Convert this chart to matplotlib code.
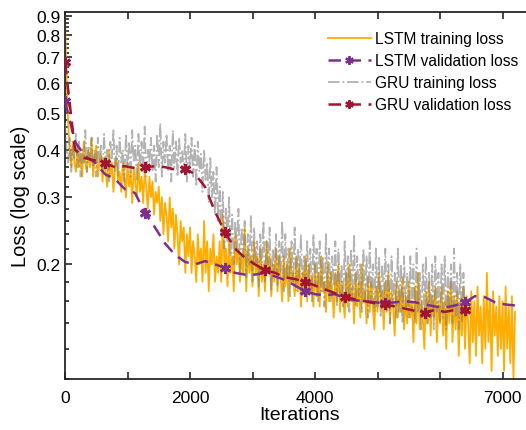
import numpy as np
import matplotlib
matplotlib.use("Agg")
import matplotlib.pyplot as plt
from matplotlib.ticker import FixedLocator, NullFormatter, FixedFormatter

plt.rcParams['font.family'] = ['Liberation Sans', 'DejaVu Sans']

# ---------------- data ----------------
train_step = 25
lstm_train = [
    0.90, 0.62, 0.47, 0.40, 0.36, 0.42, 0.37, 0.35, 0.41, 0.36, 0.39, 0.34, 0.42, 0.37, 0.35, 0.40, 0.36, 0.43, 0.34, 0.38,
    0.41, 0.34, 0.37, 0.39, 0.33, 0.38, 0.35, 0.32, 0.40, 0.34, 0.37, 0.31, 0.36, 0.38, 0.33, 0.35, 0.31, 0.37, 0.34, 0.30,
    0.37, 0.32, 0.35, 0.29, 0.36, 0.33, 0.30, 0.37, 0.31, 0.34, 0.29, 0.35, 0.32, 0.28, 0.34, 0.30, 0.33, 0.27, 0.31, 0.29,
    0.32, 0.26, 0.30, 0.24, 0.29, 0.27, 0.23, 0.30, 0.25, 0.28, 0.22, 0.27, 0.24, 0.20, 0.26, 0.23, 0.25, 0.19, 0.24, 0.21,
    0.25, 0.19, 0.23, 0.21, 0.18, 0.24, 0.20, 0.22, 0.18, 0.26, 0.19, 0.23, 0.17, 0.22, 0.20, 0.24, 0.18, 0.21, 0.19, 0.23,
    0.18, 0.27, 0.20, 0.22, 0.175, 0.23, 0.19, 0.21, 0.17, 0.24, 0.20, 0.22, 0.18, 0.21, 0.19, 0.25, 0.17, 0.22, 0.19, 0.21,
    0.175, 0.23, 0.19, 0.21, 0.165, 0.22, 0.18, 0.20, 0.17, 0.23, 0.19, 0.21, 0.165, 0.20, 0.18, 0.22, 0.17, 0.21, 0.185, 0.16,
    0.21, 0.175, 0.20, 0.16, 0.22, 0.18, 0.19, 0.165, 0.21, 0.17, 0.20, 0.155, 0.19, 0.175, 0.21, 0.16, 0.20, 0.17, 0.185, 0.155,
    0.20, 0.165, 0.19, 0.155, 0.21, 0.17, 0.18, 0.15, 0.20, 0.16, 0.19, 0.17, 0.145, 0.19, 0.16, 0.20, 0.15, 0.18, 0.165, 0.145,
    0.19, 0.155, 0.20, 0.16, 0.175, 0.14, 0.19, 0.155, 0.18, 0.145, 0.20, 0.16, 0.17, 0.14, 0.185, 0.15, 0.18, 0.155, 0.135, 0.175,
    0.15, 0.19, 0.16, 0.17, 0.135, 0.18, 0.15, 0.19, 0.14, 0.17, 0.155, 0.13, 0.18, 0.145, 0.17, 0.15, 0.185, 0.135, 0.165, 0.14,
    0.18, 0.145, 0.16, 0.125, 0.175, 0.14, 0.19, 0.135, 0.16, 0.145, 0.12, 0.17, 0.14, 0.18, 0.13, 0.165, 0.145, 0.175, 0.125, 0.16,
    0.14, 0.175, 0.13, 0.16, 0.12, 0.17, 0.14, 0.18, 0.125, 0.165, 0.135, 0.17, 0.115, 0.16, 0.13, 0.175, 0.12, 0.165, 0.14, 0.11,
    0.17, 0.125, 0.16, 0.115, 0.175, 0.13, 0.155, 0.11, 0.165, 0.12, 0.19, 0.125, 0.16, 0.105, 0.17, 0.13, 0.155, 0.115, 0.165, 0.12,
    0.16, 0.105, 0.175, 0.12, 0.155, 0.11, 0.165, 0.10, 0.15,
]
gru_train = [
    0.47, 0.40, 0.37, 0.43, 0.35, 0.41, 0.38, 0.44, 0.36, 0.42, 0.34, 0.40, 0.37, 0.45, 0.35, 0.41, 0.38, 0.43, 0.36, 0.40,
    0.34, 0.43, 0.37, 0.41, 0.35, 0.44, 0.36, 0.40, 0.33, 0.42, 0.38, 0.45, 0.35, 0.41, 0.34, 0.43, 0.37, 0.40, 0.33, 0.44,
    0.36, 0.42, 0.34, 0.45, 0.37, 0.41, 0.33, 0.44, 0.36, 0.42, 0.35, 0.46, 0.34, 0.40, 0.37, 0.43, 0.35, 0.41, 0.33, 0.44,
    0.36, 0.47, 0.34, 0.42, 0.37, 0.44, 0.35, 0.41, 0.33, 0.45, 0.36, 0.42, 0.34, 0.43, 0.37, 0.40, 0.35, 0.44, 0.33, 0.41,
    0.36, 0.43, 0.34, 0.41, 0.32, 0.42, 0.35, 0.39, 0.31, 0.40, 0.33, 0.37, 0.29, 0.38, 0.30, 0.35, 0.27, 0.36, 0.26, 0.32,
    0.24, 0.31, 0.22, 0.28, 0.23, 0.30, 0.21, 0.27, 0.20, 0.26, 0.22, 0.28, 0.19, 0.25, 0.21, 0.26, 0.185, 0.24, 0.20, 0.27,
    0.18, 0.25, 0.20, 0.23, 0.175, 0.24, 0.19, 0.26, 0.18, 0.23, 0.20, 0.25, 0.17, 0.22, 0.19, 0.24, 0.175, 0.23, 0.19, 0.26,
    0.17, 0.24, 0.185, 0.22, 0.165, 0.23, 0.18, 0.25, 0.17, 0.22, 0.185, 0.24, 0.165, 0.21, 0.18, 0.23, 0.17, 0.22, 0.16, 0.24,
    0.175, 0.22, 0.16, 0.23, 0.17, 0.21, 0.155, 0.24, 0.17, 0.22, 0.16, 0.21, 0.175, 0.23, 0.155, 0.22, 0.165, 0.20, 0.155, 0.23,
    0.165, 0.21, 0.15, 0.22, 0.16, 0.24, 0.155, 0.21, 0.165, 0.20, 0.15, 0.22, 0.16, 0.21, 0.145, 0.23, 0.16, 0.20, 0.15, 0.22,
    0.155, 0.21, 0.145, 0.20, 0.16, 0.22, 0.15, 0.20, 0.14, 0.21, 0.155, 0.19, 0.145, 0.22, 0.15, 0.20, 0.14, 0.21, 0.155, 0.19,
    0.145, 0.21, 0.15, 0.20, 0.14, 0.22, 0.15, 0.19, 0.135, 0.20, 0.15, 0.21, 0.14, 0.19, 0.145, 0.20, 0.135, 0.21, 0.15, 0.19,
    0.14, 0.20, 0.145, 0.21, 0.135, 0.19, 0.15, 0.20, 0.14, 0.22, 0.145, 0.19, 0.135, 0.20, 0.14, 0.19, 0.145,
]
val_step = 160
lstm_val = [
    0.536, 0.42, 0.385, 0.37, 0.345, 0.335, 0.315, 0.308, 0.273, 0.25,
    0.227, 0.212, 0.203, 0.200, 0.204, 0.200, 0.196, 0.190, 0.188, 0.188,
    0.190, 0.186, 0.182, 0.176, 0.170, 0.167, 0.166, 0.167, 0.163, 0.161,
    0.160, 0.159, 0.158, 0.159, 0.160, 0.159, 0.157, 0.155, 0.154, 0.156,
    0.159, 0.165, 0.164, 0.159, 0.157, 0.156,
]
gru_val = [
    0.68, 0.40, 0.38, 0.375, 0.369, 0.36, 0.362, 0.358, 0.36, 0.362,
    0.36, 0.355, 0.357, 0.345, 0.32, 0.275, 0.243, 0.22, 0.208, 0.20,
    0.193, 0.19, 0.185, 0.183, 0.180, 0.176, 0.172, 0.168, 0.164, 0.162,
    0.160, 0.158, 0.157, 0.155, 0.153, 0.151, 0.149, 0.152, 0.150, 0.152,
    0.152,
]
labels = ["LSTM training loss", "LSTM validation loss",
          "GRU training loss", "GRU validation loss"]
ytick_vals = [0.2, 0.3, 0.4, 0.5, 0.6, 0.7, 0.8, 0.9]
ytick_labels = ["0.2", "0.3", "0.4", "0.5", "0.6", "0.7", "0.8", "0.9"]
xtick_vals = [0, 1000, 2000, 3000, 4000, 5000, 6000, 7000]
xtick_labels = ["0", "", "2000", "", "4000", "", "", "7000"]

# ---------------- plot ----------------
c_orange = "#FFAD00"
c_gray = (0.5, 0.5, 0.5)
c_purple = "#7E2F8E"
c_red = "#A2142F"

fig = plt.figure(figsize=(5.26, 4.31), dpi=100)
ax = fig.add_axes([65/526, 1-380/431, 7.5*62.5/526, (380-13)/431])

x_lt = np.arange(len(lstm_train)) * train_step
x_gt = np.arange(len(gru_train)) * train_step
x_lv = np.arange(len(lstm_val)) * val_step
x_gv = np.arange(len(gru_val)) * val_step

ast = (6, 2, 0)
l1, = ax.plot(x_lt, lstm_train, color=c_orange, lw=1.3, zorder=2)
l3, = ax.plot(x_gt, gru_train, color=c_gray, lw=1.3, ls='-.', alpha=0.6, zorder=3)
l2, = ax.plot(x_lv, lstm_val, color=c_purple, lw=1.8, ls=(0, (5, 3)),
              marker=ast, ms=8, mew=2.0, markevery=8, zorder=4)
l4, = ax.plot(x_gv, gru_val, color=c_red, lw=1.8, ls=(0, (5, 3)),
              marker=ast, ms=8, mew=2.0, markevery=4, zorder=5)

ax.set_yscale('log')
ax.set_ylim(0.1, 0.92)
ax.set_xlim(0, 7500)

ax.yaxis.set_major_locator(FixedLocator(ytick_vals))
ax.yaxis.set_major_formatter(FixedFormatter(ytick_labels))
minors = [round(0.1 + 0.02 * i, 2) for i in range(41)]
minors = [m for m in minors if all(abs(m - t) > 1e-6 for t in ytick_vals)]
ax.yaxis.set_minor_locator(FixedLocator(minors))
ax.yaxis.set_minor_formatter(NullFormatter())

ax.xaxis.set_major_locator(FixedLocator(xtick_vals))
ax.xaxis.set_major_formatter(FixedFormatter(xtick_labels))

ax.tick_params(which='both', direction='in', top=True, right=False,
               labelsize=12.5, width=1.2, color='#262626')
ax.tick_params(which='major', length=5)
ax.tick_params(which='minor', length=3)
ax.tick_params(axis='x', pad=8)
for s in ax.spines.values():
    s.set_linewidth(1.3)
    s.set_color('#262626')

ax.set_xlabel("Iterations", fontsize=14, labelpad=1)
ax.set_ylabel("Loss (log scale)", fontsize=14.5, labelpad=4)

leg = ax.legend([l1, l2, l3, l4], labels, loc='upper left',
                bbox_to_anchor=(328/526, 1-32/431), bbox_transform=fig.transFigure,
                frameon=False, fontsize=11.2, handlelength=2.75, handletextpad=0.26,
                labelspacing=0.45, borderpad=0, borderaxespad=0)
for h in leg.legend_handles:
    h.set_markersize(6)
    h.set_markeredgewidth(1.6)

fig.savefig("out.png", dpi=100)
